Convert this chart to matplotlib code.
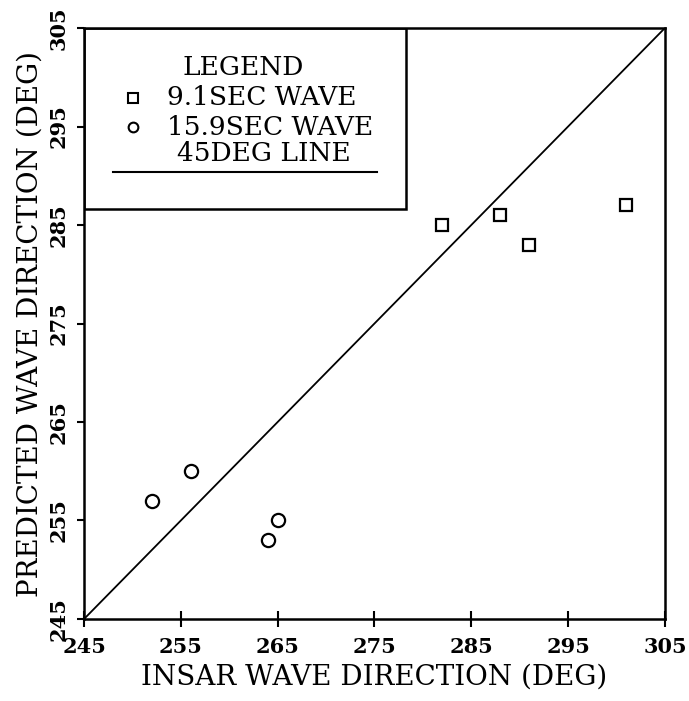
import matplotlib
matplotlib.use("Agg")
from matplotlib import pyplot as plt
from matplotlib.patches import Rectangle

# wave directions (deg): INSAR estimate vs model prediction
insar_9s = [282, 288, 291, 301]
pred_9s = [285, 286, 283, 287]
insar_16s = [256, 252, 265, 264]
pred_16s = [260, 257, 255, 253]

ticks = [245, 255, 265, 275, 285, 295, 305]
lims = (245, 305)

plt.rcParams['font.family'] = ['DejaVu Serif']

fig = plt.figure(figsize=(6.89, 7.01), dpi=100)
ax = fig.add_axes([0.122, 0.117, 0.843, 0.843])

# 45 degree reference line
ax.plot(lims, lims, color='black', lw=1.3)

ax.plot(insar_9s, pred_9s, ls='none', marker='s', ms=9, mfc='none',
        mec='black', mew=1.6)
ax.plot(insar_16s, pred_16s, ls='none', marker='o', ms=9.5, mfc='none',
        mec='black', mew=1.6)

ax.set_xlim(*lims)
ax.set_ylim(*lims)
ax.set_xticks(ticks)
ax.set_yticks(ticks)
ax.set_xticklabels([str(t) for t in ticks], fontsize=15, fontweight='bold')
ax.set_yticklabels([str(t) for t in ticks], fontsize=15, fontweight='bold',
                   rotation=90, va='center')
ax.tick_params(axis='x', direction='inout', length=12, width=1.5, pad=7)
ax.tick_params(axis='y', direction='out', length=5, width=1.5, pad=6)
for s in ax.spines.values():
    s.set_linewidth(1.8)

ax.set_xlabel('INSAR WAVE DIRECTION (DEG)', fontsize=20, labelpad=5)
ax.set_ylabel('PREDICTED WAVE DIRECTION (DEG)', fontsize=20, labelpad=4)

# hand-built legend box in the upper left corner
tr = ax.transAxes
ax.add_patch(Rectangle((0, 0.694), 0.554, 0.306, transform=tr, fill=False,
                       ec='black', lw=1.8, zorder=5))
ax.text(0.274, 0.934, 'LEGEND', transform=tr, ha='center', va='center',
        fontsize=19)
ax.plot([0.084], [0.882], transform=tr, marker='s', ms=7, mfc='none',
        mec='black', mew=1.5)
ax.text(0.143, 0.882, '9.1SEC WAVE', transform=tr, ha='left', va='center',
        fontsize=19)
ax.plot([0.084], [0.832], transform=tr, marker='o', ms=7, mfc='none',
        mec='black', mew=1.5)
ax.text(0.143, 0.832, '15.9SEC WAVE', transform=tr, ha='left', va='center',
        fontsize=19)
ax.text(0.31, 0.788, '45DEG LINE', transform=tr, ha='center', va='center',
        fontsize=19)
ax.plot([0.05, 0.504], [0.756, 0.756], transform=tr, color='black', lw=1.5)

fig.savefig('out.png', dpi=100)
